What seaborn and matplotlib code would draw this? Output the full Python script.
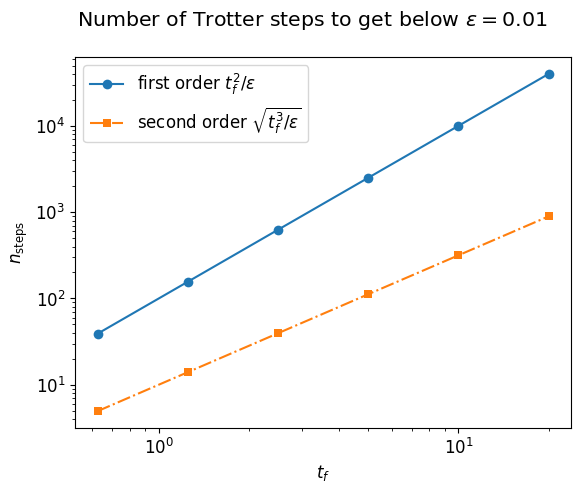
import pandas as pd
import matplotlib
matplotlib.use("Agg")
import matplotlib.pyplot as plt
import seaborn as sns

# Data
t_f = [0.625, 1.25, 2.5, 5.0, 10.0, 20.0]
first_order = [39, 156, 625, 2500, 10000, 40000]
second_order = [4.94, 13.97, 39.5, 111.8, 316, 894]

plt.rcParams.update({
    'font.size': 12,
    'axes.labelsize': 12,
    'xtick.labelsize': 12,
    'ytick.labelsize': 12,
    'legend.fontsize': 12,
})

fig, ax = plt.subplots(figsize=(5.81, 4.92), dpi=100)

sns.lineplot(x=t_f, y=first_order, marker='o', markersize=7, markeredgewidth=0,
             color='#1f77b4', label=r'first order $t_f^2/\varepsilon$', ax=ax)
sns.lineplot(x=t_f, y=second_order, marker='s', markersize=6, markeredgewidth=0,
             linestyle='-.', color='#ff7f0e',
             label=r'second order $\sqrt{t_f^3/\varepsilon}$', ax=ax)

ax.set_xscale('log')
ax.set_yscale('log')
ax.set_xlabel(r'$t_f$')
ax.set_ylabel(r'$n_{\mathrm{steps}}$')
fig.text(0.537, 0.959, r'Number of Trotter steps to get below $\varepsilon = 0.01$',
         fontsize=14.75, ha='center', va='center')
ax.legend(loc='upper left')

fig.subplots_adjust(left=0.129, right=0.983, top=0.884, bottom=0.130)
fig.savefig('out.png', dpi=100)
plt.close(fig)
